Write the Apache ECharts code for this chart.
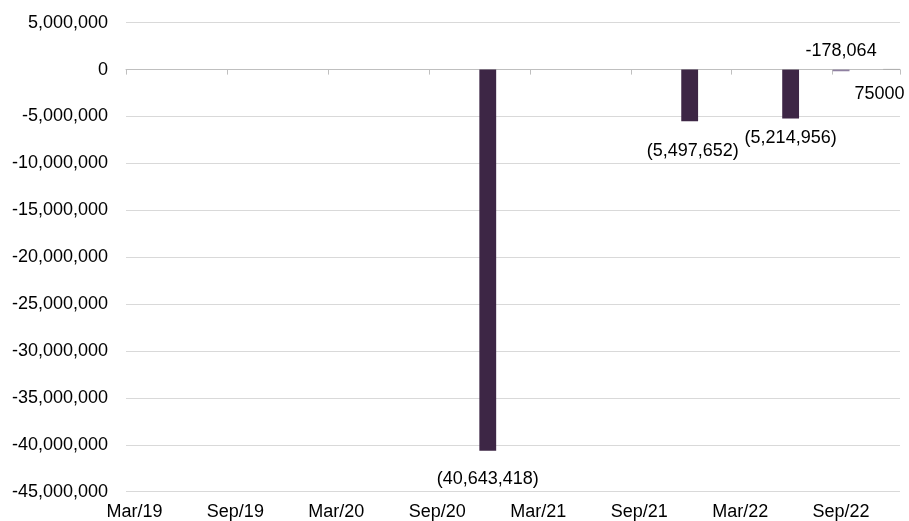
<!DOCTYPE html>
<html lang="en">
  <head>
    <meta charset="UTF-8" />
    <title>eCharts</title>
    <script src="https://cdn.jsdelivr.net/npm/echarts@6/dist/echarts.min.js"></script>
    <style>
      body { margin: 0; background: #fff; }
    </style>
  </head>
  <body>
    <div id="main" style="width: 909px; height: 521px"></div>
    <script type="text/javascript">
      // monthly slots, Mar/19 .. Dec/22
      const monthNames = ["Jan", "Feb", "Mar", "Apr", "May", "Jun", "Jul", "Aug", "Sep", "Oct", "Nov", "Dec"];
      const months = [];
      for (let y = 2019; y <= 2022; y++) {
        for (let m = 0; m < 12; m++) {
          if (y === 2019 && m < 2) continue;
          months.push(monthNames[m] + "/" + String(y).slice(2));
        }
      }

      const barMonths = ["Dec/20", "Dec/21", "Jun/22", "Sep/22", "Dec/22"];
      const barValues = [-40643418, -5497652, -5214956, -178064, 75000];
      const labelTexts = ["(40,643,418)", "(5,497,652)", "(5,214,956)", "-178,064", "75000"];

      const yTicks = [5000000, 0, -5000000, -10000000, -15000000, -20000000, -25000000, -30000000, -35000000, -40000000, -45000000];

      const barColors = ["#3d2645", "#3d2645", "#3d2645", "#8f80a1", "#a6a6a6"];
      const labelLayout = [
        { position: "bottom", distance: 19 },
        { position: "bottom", distance: 21, offset: [3, 0] },
        { position: "bottom", distance: 11 },
        { position: "top", distance: 10 },
        { position: "bottom", distance: 15, offset: [-12, 0] },
      ];

      const seriesData = months.map((m) => {
        const i = barMonths.indexOf(m);
        if (i < 0) return null;
        return {
          value: barValues[i],
          itemStyle: { color: barColors[i] },
          label: Object.assign(
            { show: true, formatter: labelTexts[i], color: "#000", fontSize: 18 },
            labelLayout[i]
          ),
        };
      });

      const font = "'Liberation Sans', Arial, sans-serif";

      let options = {
        animation: false,
        textStyle: { fontFamily: font },
        grid: { left: 126, right: 9, top: 22.7, bottom: 29.3, containLabel: false },
        xAxis: [
          {
            type: "category",
            data: months,
            position: "bottom",
            axisLine: { onZero: true, lineStyle: { color: "#bfbfbf", width: 1 } },
            axisTick: { show: true, interval: 5, length: 5, lineStyle: { color: "#bfbfbf" } },
            axisLabel: { show: false },
            splitLine: { show: false },
          },
          {
            type: "category",
            data: months,
            position: "bottom",
            axisLine: { show: false, onZero: false },
            axisTick: { show: false },
            axisLabel: { interval: 5, fontSize: 18, color: "#000", margin: 11, fontFamily: font },
            splitLine: { show: false },
          },
        ],
        yAxis: {
          type: "value",
          min: yTicks[yTicks.length - 1],
          max: yTicks[0],
          interval: 5000000,
          axisLine: { show: false },
          axisTick: { show: false },
          axisLabel: {
            fontSize: 18,
            color: "#000",
            margin: 18,
            fontFamily: font,
            formatter: (v) => v.toLocaleString("en-US"),
          },
          splitLine: { lineStyle: { color: "#d9d9d9", width: 1 } },
        },
        series: [
          {
            type: "bar",
            xAxisIndex: 0,
            data: seriesData,
            barCategoryGap: "0%",
            label: { fontFamily: font },
          },
        ],
      };

      let myChart = echarts.init(document.getElementById("main"));
      myChart.setOption(options);
    </script>
  </body>
</html>
